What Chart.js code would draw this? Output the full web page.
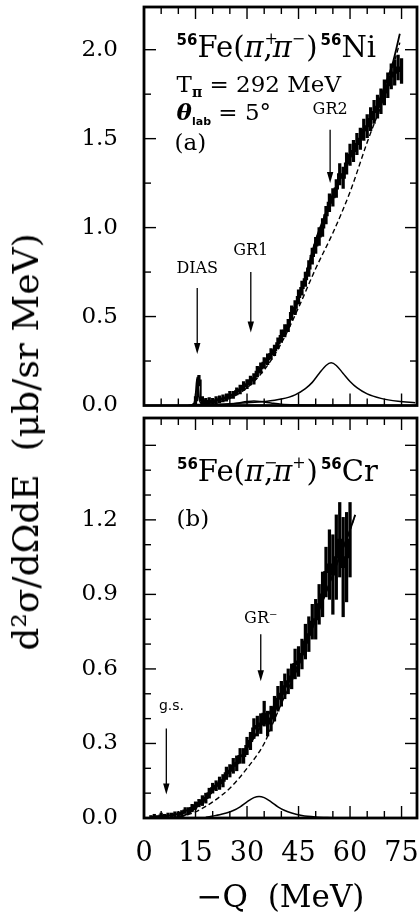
<!DOCTYPE html>
<html><head><meta charset="utf-8">
<script src="https://cdn.jsdelivr.net/npm/chart.js@4.4.1/dist/chart.umd.min.js"></script>
<style>
html,body{margin:0;padding:0;background:#fff;}
#wrap{position:relative;width:420px;height:920px;overflow:hidden;background:#fff;}
.pane{position:absolute;left:0;width:420px;}
#ytitle{position:absolute;left:26px;top:442px;transform:translate(-50%,-50%) rotate(-90deg);white-space:nowrap;font-family:"DejaVu Serif",serif;font-size:36px;color:#000;line-height:1;}
</style></head><body>
<div id="wrap">
<div class="pane" style="top:0;height:412px"><canvas id="c1"></canvas></div>
<div class="pane" style="top:412px;height:508px"><canvas id="c2"></canvas></div>
<div id="ytitle">d²σ/dΩdE&nbsp;&nbsp;(μb/sr MeV)</div>
</div>
<script>
// ---------- Panel (a): 56Fe(pi+,pi-)56Ni ----------
const topDataX = [15,16,17,18,19,20,21,22,23,24,25,26,27,28,29,30,31,32,33,34,35,36,37,38,39,40,41,42,43,44,45,46,47,48,49,50,51,52,53,54,55,56,57,58,59,60,61,62,63,64,65,66,67,68,69,70,71,72,73,74,75];
const topDataY = [0.03,0.14,0.03,0.02,0.025,0.02,0.03,0.035,0.04,0.045,
  0.06,0.06,0.08,0.09,0.11,0.12,0.14,0.15,0.19,0.21,
  0.24,0.26,0.29,0.31,0.35,0.39,0.42,0.45,0.52,0.55,
  0.61,0.66,0.71,0.77,0.84,0.90,0.95,1.00,1.07,1.14,
  1.17,1.22,1.30,1.28,1.36,1.41,1.43,1.47,1.50,1.55,
  1.57,1.61,1.65,1.68,1.71,1.76,1.80,1.85,1.87,1.90,1.88];
const topDataErr = [0.02,0.03,0.02,0.02,0.02,0.02,0.02,0.02,0.02,0.02,
  0.02,0.02,0.02,0.025,0.025,0.025,0.025,0.03,0.03,0.03,
  0.03,0.03,0.03,0.03,0.03,0.035,0.035,0.035,0.04,0.04,
  0.04,0.04,0.04,0.045,0.045,0.045,0.05,0.05,0.05,0.05,
  0.05,0.05,0.06,0.06,0.06,0.06,0.06,0.06,0.06,0.06,
  0.065,0.065,0.065,0.065,0.07,0.07,0.07,0.07,0.07,0.07,0.07];
const topFitX = [13,14.5,15,15.5,16,16.7,18,20,22.5,25,27.5,30,32.5,35,37.5,40,42.5,45,47.5,50,52.5,55,57.5,60,62.5,65,67.5,70,72.5,74.5];
const topFitY = [0.0,0.01,0.05,0.16,0.05,0.012,0.012,0.02,0.035,0.05,0.08,0.12,0.17,0.24,0.30,0.39,0.48,0.60,0.76,0.93,1.06,1.19,1.29,1.39,1.48,1.57,1.67,1.79,1.93,2.09];
const topBgX = [13,20,25,30,35,40,45,50,55,60,65,70,74.5];
const topBgY = [0.0,0.012,0.04,0.10,0.20,0.35,0.55,0.77,0.97,1.20,1.48,1.74,2.04];
const topGR2X = [14,20,25,30,35,40,44,47,49,51,53,54.5,56,58,60,62,65,69,74,79];
const topGR2Y = [0.004,0.007,0.01,0.015,0.022,0.036,0.06,0.095,0.13,0.18,0.225,0.24,0.225,0.18,0.135,0.10,0.065,0.04,0.024,0.016];
const topGR1X = [20,24,27,30,32,34,37,40,45,50];
const topGR1Y = [0.002,0.006,0.013,0.022,0.025,0.022,0.014,0.007,0.003,0.001];
const topYTicks = [0.0,0.5,1.0,1.5,2.0];

// ---------- Panel (b): 56Fe(pi-,pi+)56Cr ----------
const botDataX = [2,3,4,5,6,7,8,9,10,11,12,13,14,15,16,17,18,19,20,21,22,23,24,25,26,27,28,29,30,31,32,33,34,35,36,37,38,39,40,41,42,43,44,45,46,47,48,49,50,51,52,53,54,55,56,57,58,59,60];
const botDataY = [0.0,0.005,0.0,0.01,0.005,0.01,0.01,0.015,0.015,0.02,
  0.03,0.03,0.04,0.05,0.06,0.07,0.08,0.10,0.12,0.13,
  0.14,0.15,0.18,0.19,0.21,0.22,0.25,0.25,0.29,0.31,
  0.36,0.37,0.38,0.42,0.38,0.40,0.44,0.48,0.50,0.53,
  0.55,0.57,0.62,0.63,0.66,0.71,0.74,0.79,0.80,0.86,
  0.90,0.99,1.02,0.98,1.05,1.12,1.01,1.05,1.12];
const botDataErr = [0.01,0.01,0.01,0.01,0.01,0.01,0.01,0.01,0.01,0.01,
  0.012,0.012,0.015,0.015,0.015,0.02,0.02,0.02,0.02,0.02,
  0.025,0.025,0.025,0.025,0.03,0.03,0.03,0.03,0.035,0.035,
  0.04,0.04,0.04,0.05,0.05,0.05,0.05,0.05,0.05,0.05,
  0.05,0.05,0.06,0.06,0.06,0.07,0.07,0.07,0.08,0.08,
  0.09,0.10,0.14,0.16,0.17,0.15,0.20,0.18,0.15];
const botFitX = [8,10,12.5,15,17.5,20,22.5,25,27.5,30,32.5,35,37.5,40,42.5,45,47.5,50,52.5,55,57.5,60,61.5];
const botFitY = [0.0,0.005,0.015,0.04,0.07,0.11,0.15,0.19,0.235,0.28,0.335,0.39,0.445,0.50,0.555,0.62,0.71,0.80,0.89,0.98,1.07,1.16,1.22];
const botBgX = [8,10,15,20,25,30,35,37.5,40,42.5,45,50,55,60,61.5];
const botBgY = [0.0,0.003,0.025,0.065,0.12,0.20,0.30,0.38,0.46,0.535,0.61,0.80,0.98,1.16,1.22];
const botGRX = [18,20,22,24,26,28,30,32,33.5,35,37,39,41,43,46,50,55];
const botGRY = [0.003,0.008,0.013,0.02,0.03,0.045,0.065,0.082,0.087,0.082,0.065,0.045,0.03,0.02,0.01,0.004,0.001];
const botYTicks = [0.0,0.3,0.6,0.9,1.2];
const xTickLabels = [0,15,30,45,60,75];

// ---------- annotations (data units) ----------
const SERIF = '"DejaVu Serif", serif';
const SANS = '"DejaVu Sans", sans-serif';
const topArrows = [{x:15.5,from:0.66,to:0.29},{x:31.1,from:0.75,to:0.41},{x:54.2,from:1.55,to:1.25}];
const topLabels = [
  {text:'DIAS',x:15.5,y:0.77,font:'16px '+SERIF},
  {text:'GR1',x:31.1,y:0.87,font:'16px '+SERIF},
  {text:'GR2',x:54.2,y:1.66,font:'16px '+SERIF}];
const botArrows = [{x:6.5,from:0.36,to:0.095},{x:34,from:0.74,to:0.55}];
const botLabels = [
  {text:'g.s.',x:8,y:0.45,font:'14px '+SANS},
  {text:'GR⁻',x:34,y:0.80,font:'16px '+SERIF}];
const topRich = [
  {x:9.5,y:1.96,segs:[
    {t:'56',f:'bold 15px '+SANS,dy:-12},
    {t:'Fe(',f:'29px '+SERIF},
    {t:'π',f:'italic 29px '+SERIF},
    {t:'+',f:'16px '+SERIF,dy:-13,dx:1,noAdv:true},
    {t:',',f:'29px '+SERIF},
    {t:'π',f:'italic 29px '+SERIF},
    {t:'−',f:'16px '+SERIF,dy:-13},
    {t:')',f:'29px '+SERIF,dx:1},
    {t:'56',f:'bold 15px '+SANS,dy:-12,dx:3},
    {t:'Ni',f:'29px '+SERIF}]},
  {x:9.5,y:1.76,segs:[
    {t:'T',f:'23px '+SERIF},
    {t:'π',f:'bold 14px '+SERIF,dy:5},
    {t:' = 292 MeV',f:'23px '+SERIF}]},
  {x:9.5,y:1.605,segs:[
    {t:'θ',f:'bold italic 23px '+SERIF},
    {t:'lab',f:'bold 11px '+SANS,dy:5},
    {t:' = 5°',f:'23px '+SERIF}]},
  {x:8.9,y:1.435,segs:[{t:'(a)',f:'23px '+SERIF}]}];
const botRich = [
  {x:9.6,y:1.356,segs:[
    {t:'56',f:'bold 15px '+SANS,dy:-12},
    {t:'Fe(',f:'29px '+SERIF},
    {t:'π',f:'italic 29px '+SERIF},
    {t:'−',f:'16px '+SERIF,dy:-13,dx:0,noAdv:true},
    {t:',',f:'29px '+SERIF},
    {t:'π',f:'italic 29px '+SERIF},
    {t:'+',f:'16px '+SERIF,dy:-13},
    {t:')',f:'29px '+SERIF,dx:1},
    {t:'56',f:'bold 15px '+SANS,dy:-12,dx:3},
    {t:'Cr',f:'29px '+SERIF}]},
  {x:9.5,y:1.174,segs:[{t:'(b)',f:'23px '+SERIF}]}];

function drawRich(ctx,x,y,segs){
  let cx=x;
  for(const s of segs){
    ctx.font=s.f;
    ctx.fillText(s.t,cx+(s.dx||0),y+(s.dy||0));
    if(!s.noAdv) cx+=ctx.measureText(s.t).width+(s.dx||0);
  }
}

const framePlugin = {
  id:'frame',
  afterDatasetsDraw(chart,args,o){
    const {ctx,chartArea:a}=chart;
    const xs=chart.scales.x, ys=chart.scales.y;
    ctx.save();
    ctx.strokeStyle='#000'; ctx.fillStyle='#000';
    const seg=(x1,y1,x2,y2)=>{ctx.beginPath();ctx.moveTo(x1,y1);ctx.lineTo(x2,y2);ctx.stroke();};
    ctx.lineWidth=1.4;
    const nx=Math.round(o.xTickMax/o.xMinor);
    for(let i=1;i<=nx;i++){
      const p=xs.getPixelForValue(i*o.xMinor);
      const L=(i%o.xEvery===0)?o.major:o.minor;
      seg(p,a.bottom,p,a.bottom-L); seg(p,a.top,p,a.top+L);
    }
    const ny=Math.round(o.yTickMax/o.yMinor);
    for(let i=1;i<=ny;i++){
      const p=ys.getPixelForValue(i*o.yMinor);
      const L=(i%o.yEvery===0)?o.major:o.minor;
      seg(a.left,p,a.left+L,p); seg(a.right,p,a.right-L,p);
    }
    ctx.lineWidth=2.8;
    ctx.strokeRect(a.left,a.top,a.right-a.left,a.bottom-a.top);
    ctx.lineWidth=1.3;
    for(const ar of o.arrows){
      const px=xs.getPixelForValue(ar.x), y0=ys.getPixelForValue(ar.from), y1=ys.getPixelForValue(ar.to);
      seg(px,y0,px,y1-8);
      ctx.beginPath(); ctx.moveTo(px-3.2,y1-11); ctx.lineTo(px,y1); ctx.lineTo(px+3.2,y1-11); ctx.closePath(); ctx.fill();
    }
    ctx.textAlign='center'; ctx.textBaseline='middle';
    for(const lb of o.labels){ctx.font=lb.font; ctx.fillText(lb.text,xs.getPixelForValue(lb.x),ys.getPixelForValue(lb.y));}
    ctx.textAlign='left'; ctx.textBaseline='alphabetic';
    for(const r of o.rich){drawRich(ctx,xs.getPixelForValue(r.x),ys.getPixelForValue(r.y),r.segs);}
    ctx.restore();
  }
};

const pts=(xs,ys)=>xs.map((x,i)=>({x,y:ys[i]}));
const errBars=(xs,ys,es)=>xs.map((x,i)=>({x,y:[ys[i]-es[i],ys[i]+es[i]]}));

function datasets(dx,dy,de,fx,fy,bx,by,peaks){
  const ds=[
    {type:'bar',data:errBars(dx,dy,de),backgroundColor:'#000',borderWidth:0,barThickness:2.6,order:6},
    {type:'line',data:pts(dx,dy),borderColor:'#000',borderWidth:2,stepped:'middle',pointRadius:0,fill:false,order:5},
    {type:'line',data:pts(fx,fy),borderColor:'#000',borderWidth:1.8,pointRadius:0,fill:false,cubicInterpolationMode:'monotone',order:1},
    {type:'line',data:pts(bx,by),borderColor:'#000',borderWidth:1.4,borderDash:[5,3],pointRadius:0,fill:false,cubicInterpolationMode:'monotone',order:2}
  ];
  for(const p of peaks) ds.push({type:'line',data:pts(p[0],p[1]),borderColor:'#000',borderWidth:1.5,pointRadius:0,fill:false,cubicInterpolationMode:'monotone',order:3});
  return ds;
}

const hiddenGrid = (len)=>({display:true,drawOnChartArea:false,drawTicks:true,tickLength:len,color:'rgba(0,0,0,0)',tickColor:'rgba(0,0,0,0)'});

new Chart(document.getElementById('c1'),{
  type:'line',
  data:{datasets:datasets(topDataX,topDataY,topDataErr,topFitX,topFitY,topBgX,topBgY,[[topGR2X,topGR2Y],[topGR1X,topGR1Y]])},
  options:{
    responsive:true,maintainAspectRatio:false,animation:false,events:[],
    layout:{autoPadding:false,padding:{top:7,right:3,bottom:6.5,left:0}},
    plugins:{legend:{display:false},tooltip:{enabled:false},
      frame:{xMinor:5,xEvery:3,xTickMax:75,yMinor:0.25,yEvery:2,yTickMax:2.0,major:12,minor:7,arrows:topArrows,labels:topLabels,rich:topRich}},
    scales:{
      x:{type:'linear',min:0,max:79.5,offset:false,grid:{display:false,drawTicks:false},border:{display:false},ticks:{display:false},afterFit(s){s.height=0;}},
      y:{type:'linear',min:0,max:2.24,grid:hiddenGrid(26),border:{display:false},
        afterBuildTicks(s){s.ticks=topYTicks.map(v=>({value:v}));},
        ticks:{padding:0,color:'#000',font:{family:SERIF,size:23,lineHeight:0.5},callback:v=>v.toFixed(1)},
        afterFit(s){s.width=144;}}
    }
  },
  plugins:[framePlugin]
});

new Chart(document.getElementById('c2'),{
  type:'line',
  data:{datasets:datasets(botDataX,botDataY,botDataErr,botFitX,botFitY,botBgX,botBgY,[[botGRX,botGRY]])},
  options:{
    responsive:true,maintainAspectRatio:false,animation:false,events:[],
    layout:{autoPadding:false,padding:{top:6,right:3,bottom:0,left:0}},
    plugins:{legend:{display:false},tooltip:{enabled:false},
      frame:{xMinor:5,xEvery:3,xTickMax:75,yMinor:0.1,yEvery:3,yTickMax:1.5,major:12,minor:7,arrows:botArrows,labels:botLabels,rich:botRich}},
    scales:{
      x:{type:'linear',min:0,max:79.5,offset:false,grid:hiddenGrid(20),border:{display:false},
        afterBuildTicks(s){s.ticks=xTickLabels.map(v=>({value:v}));},
        ticks:{padding:0,color:'#000',font:{family:SERIF,size:27},maxRotation:0,minRotation:0,autoSkip:false,callback:v=>String(v)},
        title:{display:true,text:'−Q  (MeV)',color:'#000',font:{family:SERIF,size:31},padding:{top:0,bottom:2}},
        afterFit(s){s.height=102;}},
      y:{type:'linear',min:0,max:1.61,grid:hiddenGrid(26),border:{display:false},
        afterBuildTicks(s){s.ticks=botYTicks.map(v=>({value:v}));},
        ticks:{padding:0,color:'#000',font:{family:SERIF,size:23,lineHeight:0.5},callback:v=>v.toFixed(1)},
        afterFit(s){s.width=144;}}
    }
  },
  plugins:[framePlugin]
});
</script>
</body></html>
